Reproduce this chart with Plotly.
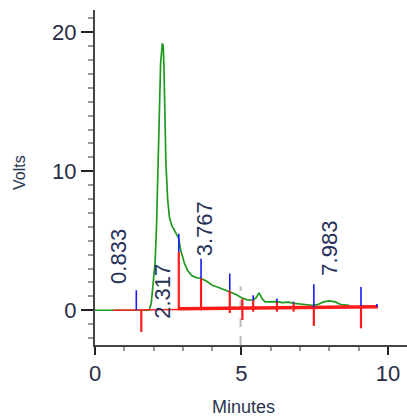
import plotly.graph_objects as go

# ---- data ----
trace_time = [0.0, 0.6, 1.5, 1.85, 1.92, 2.0, 2.05, 2.1, 2.16, 2.24, 2.3, 2.33, 2.35, 2.42,
              2.48, 2.54, 2.62, 2.72, 2.85, 2.93, 3.05, 3.15, 3.3, 3.45, 3.6, 3.8, 4.0,
              4.2, 4.4, 4.6, 4.8, 5.0, 5.2, 5.4, 5.5, 5.6, 5.7, 5.8, 6.0, 6.2, 6.4, 6.6,
              6.8, 7.0, 7.2, 7.4, 7.6, 7.8, 8.0, 8.2, 8.4, 8.68]
trace_volts = [0.0, 0.0, 0.0, 0.0, 0.5, 2.0, 3.4, 6.0, 10.6, 17.8, 19.2, 19.0, 17.8, 10.6,
               8.0, 6.7, 6.1, 5.7, 5.2, 4.3, 3.4, 2.9, 2.5, 2.35, 2.3, 2.1, 1.8,
               1.65, 1.5, 1.35, 1.15, 0.9, 0.75, 0.72, 0.9, 1.25, 0.85, 0.6, 0.6, 0.62,
               0.55, 0.58, 0.5, 0.45, 0.4, 0.36, 0.4, 0.6, 0.68, 0.6, 0.4, 0.35]

red_time = [1.58, 2.86, 3.62, 4.60, 5.03, 5.40, 6.21, 6.78, 7.47, 9.08]
red_top = [0.0, 4.2, 2.3, 1.42, 0.8, 0.75, 0.6, 0.5, 0.2, 0.3]
red_bottom = [-1.56, 0.0, 0.0, -0.2, -0.7, -0.1, -0.1, -0.1, -1.13, -1.3]

blue_time = [1.41, 2.86, 3.62, 4.60, 5.40, 6.21, 6.78, 7.47, 9.08, 9.62]
blue_top = [1.44, 5.5, 3.7, 2.64, 1.08, 0.84, 0.62, 1.87, 1.68, 0.45]
blue_bottom = [0.0, 4.2, 2.3, 1.42, 0.72, 0.6, 0.5, 0.2, 0.3, 0.25]

base_thin_time = [0.62, 2.86]
base_thin_volts = [0.0, 0.05]
base_thick_time = [2.86, 9.66]
base_thick_volts = [0.1, 0.25]

label_text = ["0.833", "2.317", "3.767", "7.983"]
label_time = [0.78, 2.32, 3.72, 8.02]
label_volts = [3.9, 1.4, 5.9, 4.5]

marker_time = [4.97, 4.97]
marker_volts = [-2.5, 1.7]


def segments(xs, tops, bottoms):
    sx, sy = [], []
    for x, t, b in zip(xs, tops, bottoms):
        sx += [x, x, None]
        sy += [b, t, None]
    return sx, sy


fig = go.Figure()

fig.add_trace(go.Scatter(x=marker_time, y=marker_volts, mode="lines",
                         line=dict(color="#bbbbbb", width=2, dash="dash"),
                         hoverinfo="skip", showlegend=False))

fig.add_trace(go.Scatter(x=trace_time, y=trace_volts, mode="lines",
                         line=dict(color="#1e9a1e", width=1.7),
                         showlegend=False))

fig.add_trace(go.Scatter(x=base_thin_time, y=base_thin_volts, mode="lines",
                         line=dict(color="#ff2020", width=1.5), showlegend=False))
fig.add_trace(go.Scatter(x=base_thick_time, y=base_thick_volts, mode="lines",
                         line=dict(color="#ff1a1a", width=3.5), showlegend=False))

rx, ry = segments(red_time, red_top, red_bottom)
fig.add_trace(go.Scatter(x=rx, y=ry, mode="lines",
                         line=dict(color="#ff1a1a", width=2.2), showlegend=False))

bx, by = segments(blue_time, blue_top, blue_bottom)
fig.add_trace(go.Scatter(x=bx, y=by, mode="lines",
                         line=dict(color="#1a1aff", width=1.6), showlegend=False))

for txt, tx, ty in zip(label_text, label_time, label_volts):
    fig.add_annotation(x=tx, y=ty, text=txt, textangle=-90, showarrow=False,
                       font=dict(family="Liberation Sans, Arial", size=22, color="#26305a"))

PLOT_L, PLOT_R, PLOT_T, PLOT_B = 95, 407, 10, 345
PW, PH = PLOT_R - PLOT_L, PLOT_B - PLOT_T

fig.add_annotation(x=(243 - PLOT_L) / PW, y=-(407 - PLOT_B) / PH, xref="paper", yref="paper",
                   text="Minutes", showarrow=False, xanchor="center", yanchor="middle",
                   font=dict(family="Liberation Sans, Arial", size=18, color="#2a3550"))
fig.add_annotation(x=-(PLOT_L - 19) / PW, y=(PLOT_B - 173) / PH, xref="paper", yref="paper",
                   text="Volts", textangle=-90, showarrow=False,
                   xanchor="center", yanchor="middle",
                   font=dict(family="Liberation Sans, Arial", size=16, color="#2a3550"))

axis_font = dict(family="Liberation Sans, Arial", size=22, color="#2a2a44")

fig.update_layout(
    width=407, height=416,
    margin=dict(l=PLOT_L, r=407 - PLOT_R, t=PLOT_T, b=416 - PLOT_B, autoexpand=False),
    paper_bgcolor="white", plot_bgcolor="white",
    showlegend=False,
    xaxis=dict(range=[0, 10.65], dtick=5, tick0=0, ticks="outside", ticklen=8,
               tickwidth=2, tickcolor="#222", showline=True, linecolor="#444",
               linewidth=2, showgrid=False, zeroline=False, tickfont=axis_font,
               ticklabelstandoff=0, automargin=False,
               minor=dict(dtick=1, ticks="outside", ticklen=4, tickwidth=2,
                          tickcolor="#999", showgrid=False)),
    yaxis=dict(range=[-2.5, 21.6], dtick=10, tick0=0, ticks="outside", ticklen=12,
               tickwidth=2, tickcolor="#222", showline=True, linecolor="#444",
               linewidth=2, showgrid=False, zeroline=False, tickfont=axis_font,
               automargin=False,
               minor=dict(dtick=1, ticks="outside", ticklen=5, tickwidth=2,
                          tickcolor="#999", showgrid=False)),
)

fig.write_html("out.html", config={"displayModeBar": False},
               post_script="document.body.style.margin='0';document.body.style.overflow='hidden';")
